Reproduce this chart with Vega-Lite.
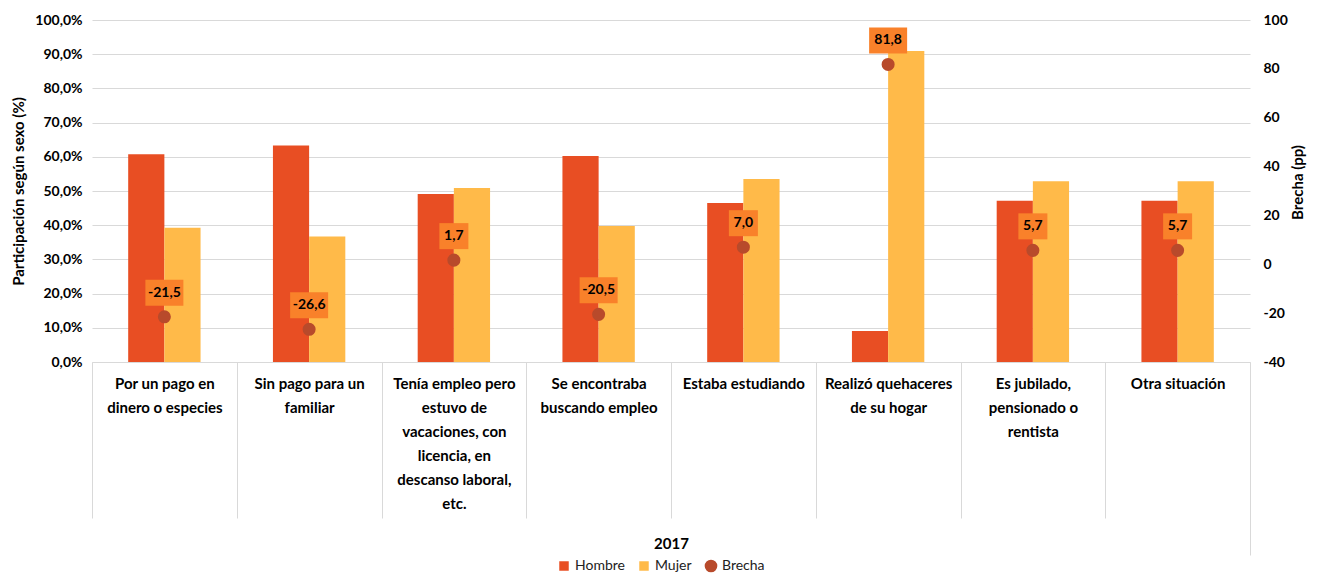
{
  "$schema": "https://vega.github.io/schema/vega-lite/v6.json",
  "width": 1158,
  "height": 342,
  "autosize": {"type": "none"},
  "padding": {"left": 92, "top": 20, "right": 70, "bottom": 211},
  "config": {
    "view": {"stroke": null},
    "font": "Lato",
    "locale": {"number": {"decimal": ",", "thousands": ".", "grouping": [3], "currency": ["", ""], "minus": "-"}},
    "axis": {"labelFont": "Lato", "titleFont": "Lato", "labelColor": "#000000", "titleColor": "#000000"}
  },
  "datasets": {
    "barras": [
      {"categoria": "Por un pago en dinero o especies", "sexo": "Hombre", "valor": 60.75},
      {"categoria": "Por un pago en dinero o especies", "sexo": "Mujer", "valor": 39.25},
      {"categoria": "Sin pago para un familiar", "sexo": "Hombre", "valor": 63.3},
      {"categoria": "Sin pago para un familiar", "sexo": "Mujer", "valor": 36.7},
      {"categoria": "Tenía empleo pero estuvo de vacaciones, con licencia, en descanso laboral, etc.", "sexo": "Hombre", "valor": 49.15},
      {"categoria": "Tenía empleo pero estuvo de vacaciones, con licencia, en descanso laboral, etc.", "sexo": "Mujer", "valor": 50.85},
      {"categoria": "Se encontraba buscando empleo", "sexo": "Hombre", "valor": 60.25},
      {"categoria": "Se encontraba buscando empleo", "sexo": "Mujer", "valor": 39.75},
      {"categoria": "Estaba estudiando", "sexo": "Hombre", "valor": 46.5},
      {"categoria": "Estaba estudiando", "sexo": "Mujer", "valor": 53.5},
      {"categoria": "Realizó quehaceres de su hogar", "sexo": "Hombre", "valor": 9.1},
      {"categoria": "Realizó quehaceres de su hogar", "sexo": "Mujer", "valor": 90.9},
      {"categoria": "Es jubilado, pensionado o rentista", "sexo": "Hombre", "valor": 47.15},
      {"categoria": "Es jubilado, pensionado o rentista", "sexo": "Mujer", "valor": 52.85},
      {"categoria": "Otra situación", "sexo": "Hombre", "valor": 47.15},
      {"categoria": "Otra situación", "sexo": "Mujer", "valor": 52.85}
    ],
    "brecha": [
      {"categoria": "Por un pago en dinero o especies", "Brecha": -21.5},
      {"categoria": "Sin pago para un familiar", "Brecha": -26.6},
      {"categoria": "Tenía empleo pero estuvo de vacaciones, con licencia, en descanso laboral, etc.", "Brecha": 1.7},
      {"categoria": "Se encontraba buscando empleo", "Brecha": -20.5},
      {"categoria": "Estaba estudiando", "Brecha": 7.0},
      {"categoria": "Realizó quehaceres de su hogar", "Brecha": 81.8},
      {"categoria": "Es jubilado, pensionado o rentista", "Brecha": 5.7},
      {"categoria": "Otra situación", "Brecha": 5.7}
    ]
  },
  "encoding": {
    "x": {
      "field": "categoria",
      "type": "nominal",
      "sort": null,
      "title": "2017",
      "scale": {"paddingInner": 0, "paddingOuter": 0},
      "axis": {
        "orient": "bottom",
        "labelAngle": 0,
        "labelFontSize": 15,
        "labelFontWeight": "bold",
        "labelBaseline": "top",
        "labelLineHeight": 24,
        "labelLimit": 200,
        "labelOverlap": false,
        "labelBound": false,
        "labelPadding": {"condition": {"test": "datum.index >= 0.87", "value": -179}, "value": -142},
        "tickBand": "extent",
        "tickSize": {"condition": {"test": "datum.index >= 0.87", "value": 193}, "value": 156},
        "tickColor": "#d9d9d9",
        "tickWidth": 1,
        "domainColor": "#d9d9d9",
        "domainWidth": 1,
        "grid": false,
        "titleFontSize": 15,
        "titleFontWeight": "bold",
        "titleY": 181,
        "titleBaseline": "middle",
        "labelExpr": "{'Por un pago en dinero o especies': ['Por un pago en', 'dinero o especies'], 'Sin pago para un familiar': ['Sin pago para un', 'familiar'], 'Tenía empleo pero estuvo de vacaciones, con licencia, en descanso laboral, etc.': ['Tenía empleo pero', 'estuvo de', 'vacaciones, con', 'licencia, en', 'descanso laboral,', 'etc.'], 'Se encontraba buscando empleo': ['Se encontraba', 'buscando empleo'], 'Estaba estudiando': ['Estaba estudiando'], 'Realizó quehaceres de su hogar': ['Realizó quehaceres', 'de su hogar'], 'Es jubilado, pensionado o rentista': ['Es jubilado,', 'pensionado o', 'rentista'], 'Otra situación': ['Otra situación']}[datum.value]"
      }
    }
  },
  "layer": [
    {
      "data": {"name": "barras"},
      "mark": {"type": "bar"},
      "encoding": {
        "xOffset": {"field": "sexo", "type": "nominal", "sort": ["Hombre", "Mujer"], "scale": {"paddingOuter": 1.07, "paddingInner": 0}},
        "y": {
          "field": "valor",
          "type": "quantitative",
          "scale": {"domain": [0, 100], "nice": false},
          "axis": {
            "orient": "left",
            "values": [0, 10, 20, 30, 40, 50, 60, 70, 80, 90, 100],
            "format": ".1f",
            "labelExpr": "datum.label + '%'",
            "labelFontSize": 14,
            "labelFontWeight": "bold",
            "labelPadding": 10,
            "domain": false,
            "ticks": false,
            "grid": true,
            "gridColor": "#d9d9d9",
            "gridWidth": 1,
            "title": "Participación según sexo (%)",
            "titleFontSize": 15,
            "titleFontWeight": "bold",
            "titlePadding": 8
          }
        },
        "color": {
          "field": "sexo",
          "type": "nominal",
          "scale": {"domain": ["Hombre", "Mujer", "Brecha"], "range": ["#E84E23", "#FFBA49", "#B84A2B"]},
          "legend": {
            "orient": "none",
            "legendX": 465,
            "legendY": 539,
            "direction": "horizontal",
            "title": null,
            "labelFont": "Lato",
            "labelFontSize": 14,
            "labelColor": "#222222",
            "labelOffset": 4,
            "columnPadding": 12,
            "symbolStrokeWidth": 0,
            "encode": {
              "symbols": {
                "update": {
                  "shape": {"signal": "datum.value === 'Brecha' ? 'circle' : 'square'"},
                  "size": {"signal": "datum.value === 'Brecha' ? 160 : 90"},
                  "strokeWidth": {"value": 0}
                }
              }
            }
          }
        }
      }
    },
    {
      "data": {"name": "brecha"},
      "encoding": {
        "y": {
          "field": "Brecha",
          "type": "quantitative",
          "scale": {"domain": [-40, 100], "nice": false},
          "axis": {
            "orient": "right",
            "values": [-40, -20, 0, 20, 40, 60, 80, 100],
            "format": "d",
            "labelFontSize": 14,
            "labelFontWeight": "bold",
            "labelPadding": 13,
            "domain": false,
            "ticks": false,
            "grid": false,
            "title": "Brecha  (pp)",
            "titleFontSize": 15,
            "titleFontWeight": "bold",
            "titleAngle": -90,
            "titlePadding": 18,
            "titleY": 162
          }
        }
      },
      "layer": [
        {
          "mark": {"type": "point", "filled": true, "opacity": 1, "size": 170},
          "encoding": {
            "color": {"datum": "Brecha", "type": "nominal"}
          }
        },
        {
          "mark": {"type": "point", "filled": true, "opacity": 1, "color": "#F9812A", "strokeWidth": 0, "yOffset": -24},
          "encoding": {
            "shape": {"condition": {"test": "abs(datum.Brecha) >= 10", "value": "M-1,-0.684H1V0.684H-1Z"}, "value": "M-1,-0.897H1V0.897H-1Z"},
            "size": {"condition": {"test": "abs(datum.Brecha) >= 10", "value": 1444}, "value": 841}
          }
        },
        {
          "mark": {"type": "text", "fontWeight": "bold", "fontSize": 14, "color": "#000000", "yOffset": -24, "baseline": "middle", "align": "center", "font": "Lato"},
          "encoding": {
            "text": {"field": "Brecha", "type": "quantitative", "format": ".1f"}
          }
        }
      ]
    }
  ],
  "resolve": {"scale": {"y": "independent"}}
}
